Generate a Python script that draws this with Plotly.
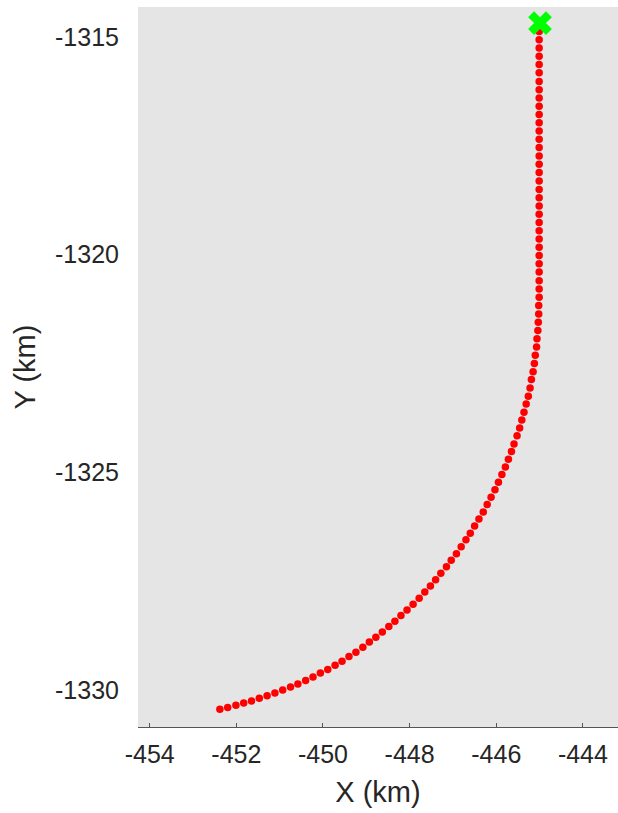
import plotly.graph_objects as go

# Trajectory (km)
track_x = [
    -445.01, -445.01, -445.01, -445.01, -445.01, -445.01, -445.01, -445.01, -445.01, -445.01,
    -445.01, -445.01, -445.01, -445.01, -445.01, -445.01, -445.01, -445.01, -445.01, -445.01,
    -445.01, -445.01, -445.01, -445.01, -445.01, -445.01, -445.01, -445.01, -445.01, -445.01,
    -445.01, -445.01, -445.01, -445.01,
    -445.02, -445.02, -445.03, -445.04, -445.06, -445.07, -445.10, -445.12, -445.15, -445.19,
    -445.22, -445.26, -445.31, -445.36, -445.41, -445.46, -445.52, -445.59, -445.65, -445.72,
    -445.79, -445.87, -445.95, -446.03, -446.12, -446.21, -446.30, -446.40, -446.50, -446.60,
    -446.70, -446.81, -446.92, -447.04, -447.15, -447.28, -447.40, -447.52, -447.65, -447.78,
    -447.92, -448.06, -448.20, -448.34, -448.48, -448.63, -448.78, -448.93, -449.08, -449.24,
    -449.40, -449.56, -449.72, -449.89, -450.06, -450.23, -450.40, -450.58, -450.75, -450.93,
    -451.11, -451.29, -451.47, -451.65, -451.83, -452.01, -452.20, -452.38,
]
track_y = [
    -1314.68, -1314.87, -1315.06, -1315.25, -1315.44, -1315.63, -1315.82, -1316.02, -1316.21, -1316.40,
    -1316.59, -1316.78, -1316.97, -1317.16, -1317.35, -1317.54, -1317.73, -1317.92, -1318.11, -1318.31,
    -1318.50, -1318.69, -1318.88, -1319.07, -1319.26, -1319.45, -1319.64, -1319.83, -1320.02, -1320.21,
    -1320.40, -1320.60, -1320.79, -1320.98,
    -1321.17, -1321.36, -1321.55, -1321.74, -1321.93, -1322.12, -1322.31, -1322.50, -1322.69, -1322.87,
    -1323.06, -1323.25, -1323.43, -1323.62, -1323.80, -1323.98, -1324.16, -1324.35, -1324.52, -1324.70,
    -1324.88, -1325.05, -1325.23, -1325.40, -1325.57, -1325.74, -1325.91, -1326.07, -1326.23, -1326.40,
    -1326.55, -1326.71, -1326.87, -1327.02, -1327.17, -1327.32, -1327.47, -1327.61, -1327.75, -1327.89,
    -1328.03, -1328.16, -1328.29, -1328.42, -1328.54, -1328.67, -1328.79, -1328.90, -1329.02, -1329.13,
    -1329.23, -1329.34, -1329.43, -1329.53, -1329.61, -1329.70, -1329.78, -1329.86, -1329.93, -1330.00,
    -1330.07, -1330.13, -1330.19, -1330.25, -1330.30, -1330.35, -1330.40, -1330.44,
]
start_x = [-444.99]
start_y = [-1314.68]

x_ticks = [-454, -452, -450, -448, -446, -444]
y_ticks = [-1330, -1325, -1320, -1315]

fig = go.Figure()
fig.add_trace(go.Scatter(
    x=track_x, y=track_y, mode="markers",
    marker=dict(color="#ff0000", size=7.5, line=dict(width=0)),
    showlegend=False, hoverinfo="skip",
))
fig.add_trace(go.Scatter(
    x=start_x, y=start_y, mode="markers",
    marker=dict(color="#00ff00", size=21, symbol="x", line=dict(width=0)),
    showlegend=False, hoverinfo="skip",
))

font_family = "Liberation Sans, Arial, sans-serif"
fig.update_layout(
    width=618, height=813,
    margin=dict(l=138, r=0, t=7, b=86),
    paper_bgcolor="white",
    plot_bgcolor="#e5e5e5",
    font=dict(family=font_family, color="#262626"),
    xaxis=dict(
        range=[-454.27, -443.19],
        tickvals=x_ticks, ticktext=[str(v) for v in x_ticks],
        ticks="inside", ticklen=4, tickcolor="#555555",
        showgrid=False, zeroline=False,
        showline=True, linecolor="#555555", linewidth=1,
        tickfont=dict(size=25, color="#262626"),
        ticklabelstandoff=5,
        title=dict(text="X (km)", font=dict(size=29, color="#262626"), standoff=14),
    ),
    yaxis=dict(
        range=[-1330.85, -1314.31],
        tickvals=y_ticks, ticktext=[str(v) for v in y_ticks],
        ticks="", showgrid=False, zeroline=False, showline=False,
        tickfont=dict(size=25, color="#262626"),
        ticklabelstandoff=18,
        title=dict(text="Y (km)", font=dict(size=29, color="#262626"), standoff=10),
    ),
)

fig.write_html(
    "out.html",
    config={"displayModeBar": False, "staticPlot": True},
    post_script="document.body.style.margin='0';document.body.style.overflow='hidden';",
)
